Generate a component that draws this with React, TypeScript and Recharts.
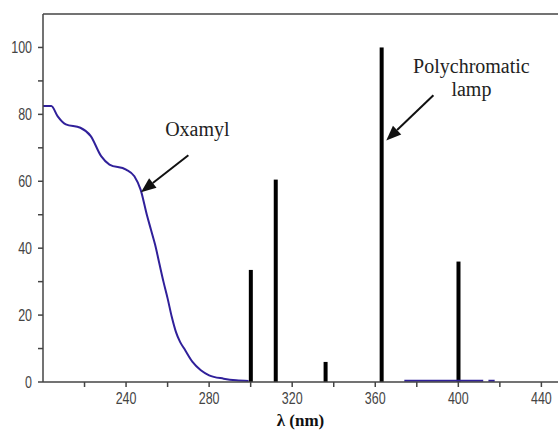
import React from "react";
import {
  ComposedChart,
  Line,
  Bar,
  XAxis,
  YAxis,
  ReferenceLine,
  Label,
} from "recharts";

// Oxamyl absorption spectrum (wavelength in nm, relative absorbance)
const OXAMYL_NM = [
  200, 204, 207, 211, 218, 223, 228, 232, 240, 244, 247, 250, 252, 254, 256,
  258, 260, 262, 264, 266, 268, 272, 276, 280, 287, 293, 299,
  336,
  374, 390, 400, 412, 413, 414.5, 417.5,
];
const OXAMYL_ABS = [
  82.5, 82.5, 79.5, 77, 76, 73.5, 67.5, 65, 63.5, 61.5, 57.5, 50, 45.5, 41, 35.5,
  30, 25, 19.5, 15, 12, 10, 6, 3.5, 2, 1, 0.5, 0.3,
  null,
  0.4, 0.4, 0.4, 0.4, null, 0.4, 0.4,
];

// Emission lines of the polychromatic lamp
const LAMP_NM = [300, 312, 336, 363, 400];
const LAMP_INTENSITY = [33.5, 60.5, 6, 100, 36];

const X_TICKS = [220, 240, 260, 280, 300, 320, 340, 360, 380, 400, 420, 440];
const Y_TICKS = [0, 10, 20, 30, 40, 50, 60, 70, 80, 90, 100];

const oxamylData = OXAMYL_NM.map((nm, i) => ({ nm, abs: OXAMYL_ABS[i] }));
const lampData = LAMP_NM.map((nm, i) => ({ nm, lamp: LAMP_INTENSITY[i] }));

const AXIS_COLOR = "#444";
const TICK_FONT = "'Liberation Sans', Arial, sans-serif";
const SERIF = "'Liberation Serif', 'DejaVu Serif', serif";

// tall, narrow tick digits
function tickText(x: number, y: number, anchor: string, value: number) {
  return (
    <text
      transform={`translate(${x},${y}) scale(0.78,1)`}
      textAnchor={anchor}
      fontFamily={TICK_FONT}
      fontSize={16}
      fill={AXIS_COLOR}
    >
      {value}
    </text>
  );
}

function XTick({ x, y, payload }: any) {
  if (payload.value % 40 !== 0) return null;
  return tickText(x, y + 15, "middle", payload.value);
}

function YTick({ x, y, payload }: any) {
  if (payload.value % 20 !== 0) return null;
  return tickText(x - 4, y + 6, "end", payload.value);
}

// lamp lines: fixed-width rect centred on the wavelength
function LampLine({ x, y, width, height }: any) {
  const w = 4;
  return <rect x={x + width / 2 - w / 2} y={y} width={w} height={height} fill="#000" />;
}

// line with a filled arrowhead at (x2, y2), plus its caption
function arrow(lines: string[], dx: number, dy: number) {
  return (props: any) => {
    const { x1, y1, x2, y2 } = props;
    const ang = Math.atan2(y2 - y1, x2 - x1);
    const len = 15;
    const half = 6;
    const bx = x2 - len * Math.cos(ang);
    const by = y2 - len * Math.sin(ang);
    const px = -Math.sin(ang) * half;
    const py = Math.cos(ang) * half;
    return (
      <g>
        <line x1={x1} y1={y1} x2={bx} y2={by} stroke="#111" strokeWidth={2} />
        <polygon points={`${x2},${y2} ${bx + px},${by + py} ${bx - px},${by - py}`} fill="#111" />
        {lines.map((t, i) => (
          <text
            key={t}
            x={x1 + dx}
            y={y1 + dy + i * 23}
            textAnchor="middle"
            fontFamily={SERIF}
            fontSize={20}
            fill="#222"
          >
            {t}
          </text>
        ))}
      </g>
    );
  };
}

export default function App() {
  return (
    <div style={{ position: "absolute", left: 0, top: 0, width: 558, height: 431, background: "#fff" }}>
      <ComposedChart
        width={558}
        height={431}
        data={lampData}
        margin={{ top: 14, right: 0, left: 0, bottom: 0 }}
      >
        <XAxis
          dataKey="nm"
          type="number"
          domain={[200, 448]}
          ticks={X_TICKS}
          allowDataOverflow
          height={49}
          tickSize={5}
          tick={<XTick />}
          stroke={AXIS_COLOR}
          strokeWidth={1.5}
        >
          <Label
            value="λ (nm)"
            position="insideBottom"
            offset={5}
            style={{ fontFamily: SERIF, fontWeight: "bold", fontSize: 17, fill: "#111" }}
          />
        </XAxis>
        <YAxis
          type="number"
          domain={[0, 110]}
          ticks={Y_TICKS}
          width={43}
          tickSize={5}
          tick={<YTick />}
          stroke={AXIS_COLOR}
          strokeWidth={1.5}
        />
        <ReferenceLine y={110} stroke={AXIS_COLOR} strokeWidth={1.5} />
        <Bar dataKey="lamp" fill="#000" shape={<LampLine />} isAnimationActive={false} />
        <Line
          data={oxamylData}
          dataKey="abs"
          type="monotone"
          stroke="#30209a"
          strokeWidth={2}
          dot={false}
          connectNulls={false}
          isAnimationActive={false}
        />
        <ReferenceLine
          segment={[{ x: 270, y: 67.8 }, { x: 247.2, y: 56.7 }]}
          shape={arrow(["Oxamyl"], 9, -19)}
        />
        <ReferenceLine
          segment={[{ x: 388, y: 85.7 }, { x: 365.3, y: 72.2 }]}
          shape={arrow(["Polychromatic", "lamp"], 38, -22)}
        />
      </ComposedChart>
    </div>
  );
}
